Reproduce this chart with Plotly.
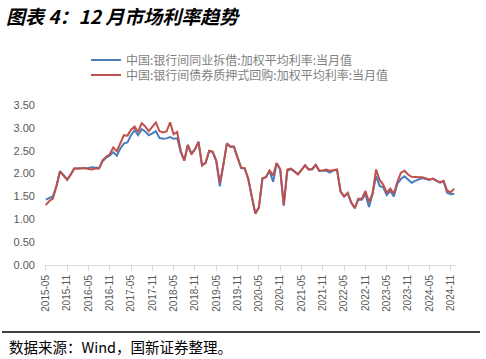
import plotly.graph_objects as go
import pandas as pd

months = pd.date_range("2015-05-01", "2024-12-01", freq="MS").strftime("%Y-%m").tolist()

lending = [1.43, 1.46, 1.50, 1.72, 2.05, 1.97, 1.87, 1.98, 2.11, 2.11,
           2.11, 2.11, 2.12, 2.14, 2.13, 2.12, 2.27, 2.35, 2.39, 2.47,
           2.39, 2.55, 2.66, 2.68, 2.84, 2.95, 2.84, 2.97, 2.92, 2.84,
           2.88, 2.93, 2.78, 2.76, 2.77, 2.80, 2.76, 2.77, 2.47, 2.29,
           2.62, 2.44, 2.53, 2.69, 2.18, 2.24, 2.49, 2.47, 2.28, 1.72,
           2.19, 2.66, 2.58, 2.58, 2.35, 2.12, 2.11, 1.88, 1.50, 1.12,
           1.27, 1.89, 1.92, 2.06, 1.82, 2.22, 2.09, 1.30, 2.06, 2.10,
           2.04, 1.99, 2.08, 2.18, 2.09, 2.09, 2.19, 2.06, 2.06, 2.06,
           2.02, 2.07, 2.08, 1.60, 1.50, 1.57, 1.36, 1.24, 1.43, 1.43,
           1.55, 1.27, 1.55, 1.95, 1.73, 1.70, 1.53, 1.62, 1.50, 1.78,
           1.88, 1.94, 1.87, 1.80, 1.84, 1.87, 1.90, 1.88, 1.86, 1.89,
           1.84, 1.80, 1.83, 1.58, 1.55, 1.56]

repo = [1.31, 1.40, 1.45, 1.72, 2.05, 1.95, 1.86, 1.97, 2.11, 2.11,
        2.12, 2.12, 2.10, 2.09, 2.11, 2.11, 2.29, 2.37, 2.42, 2.57,
        2.49, 2.66, 2.84, 2.83, 2.96, 3.03, 2.91, 3.10, 3.03, 2.93,
        3.02, 3.12, 2.93, 2.90, 2.92, 3.12, 2.86, 2.91, 2.50, 2.28,
        2.63, 2.42, 2.53, 2.70, 2.18, 2.23, 2.50, 2.48, 2.28, 1.79,
        2.19, 2.66, 2.59, 2.59, 2.35, 2.13, 2.12, 1.90, 1.50, 1.13,
        1.25, 1.90, 1.92, 2.07, 1.96, 2.23, 2.10, 1.31, 2.09, 2.11,
        2.05, 1.98, 2.08, 2.18, 2.09, 2.10, 2.19, 2.06, 2.07, 2.09,
        2.06, 2.08, 2.09, 1.61, 1.50, 1.58, 1.37, 1.25, 1.45, 1.45,
        1.62, 1.38, 1.56, 2.09, 1.86, 1.76, 1.58, 1.67, 1.56, 1.82,
        2.02, 2.06, 1.98, 1.93, 1.92, 1.92, 1.92, 1.89, 1.87, 1.89,
        1.84, 1.81, 1.84, 1.63, 1.59, 1.67]

tick_labels = months[::6]

name_lending = "中国:银行间同业拆借:加权平均利率:当月值"
name_repo = "中国:银行间债券质押式回购:加权平均利率:当月值"

PH = 160.0   # plot height in px
PW = 412.0   # plot width in px


def py(pix):
    return (265.0 - pix) / PH


def px(pix):
    return (pix - 44.0) / PW


fig = go.Figure()
fig.add_trace(go.Scatter(x=months, y=lending, mode="lines", name=name_lending,
                         line=dict(color="#4a7ebb", width=2), legend="legend"))
fig.add_trace(go.Scatter(x=months, y=repo, mode="lines", name=name_repo,
                         line=dict(color="#c0504d", width=2), legend="legend2"))

leg_common = dict(xanchor="left", yanchor="middle",
                  font=dict(size=12, color="#7f7f7f"),
                  bgcolor="rgba(0,0,0,0)", itemwidth=30)

fig.update_layout(
    width=486, height=359,
    margin=dict(l=44, r=30, t=105, b=94, autoexpand=False),
    paper_bgcolor="white", plot_bgcolor="white",
    font=dict(family="Noto Sans CJK SC, Liberation Sans, sans-serif", color="#595959"),
    showlegend=True,
    legend=dict(x=px(86), y=py(60), **leg_common),
    legend2=dict(x=px(86), y=py(75), **leg_common),
    xaxis=dict(type="category", range=[-0.5, len(months) - 0.5],
               tickmode="array", tickvals=tick_labels, ticktext=tick_labels,
               tickangle=-90, tickfont=dict(size=10, color="#595959",
                                            family="Liberation Sans, Arial, sans-serif"),
               showline=True, linecolor="#d9d9d9", linewidth=1,
               ticks="outside", ticklen=5, tickcolor="#d9d9d9",
               showgrid=False, zeroline=False),
    yaxis=dict(range=[0, 3.5], tickvals=[0, 0.5, 1, 1.5, 2, 2.5, 3, 3.5],
               tickformat=".2f", showgrid=False, zeroline=False, showline=False,
               tickfont=dict(size=11, color="#595959",
                             family="Liberation Sans, Arial, sans-serif"),
               ticks="", ticklabelstandoff=8),
)

fig.add_annotation(text="<b><i>图表 4：12 月市场利率趋势</i></b>",
                   xref="paper", yref="paper", x=px(4), y=py(15),
                   xanchor="left", yanchor="middle", showarrow=False,
                   font=dict(size=19, color="black",
                             family="Noto Sans CJK SC, sans-serif"))
fig.add_annotation(text="数据来源：Wind，国新证券整理。",
                   xref="paper", yref="paper", x=px(7), y=py(346),
                   xanchor="left", yanchor="middle", showarrow=False,
                   font=dict(size=14.5, color="black",
                             family="Noto Sans CJK SC, sans-serif"))
fig.add_shape(type="line", xref="paper", yref="paper",
              x0=px(2), x1=px(480), y0=py(332), y1=py(332),
              line=dict(color="black", width=1.5))

fig.write_html("out.html",
               config={"displayModeBar": False},
               post_script="document.body.style.margin='0';document.body.style.overflow='hidden';")
